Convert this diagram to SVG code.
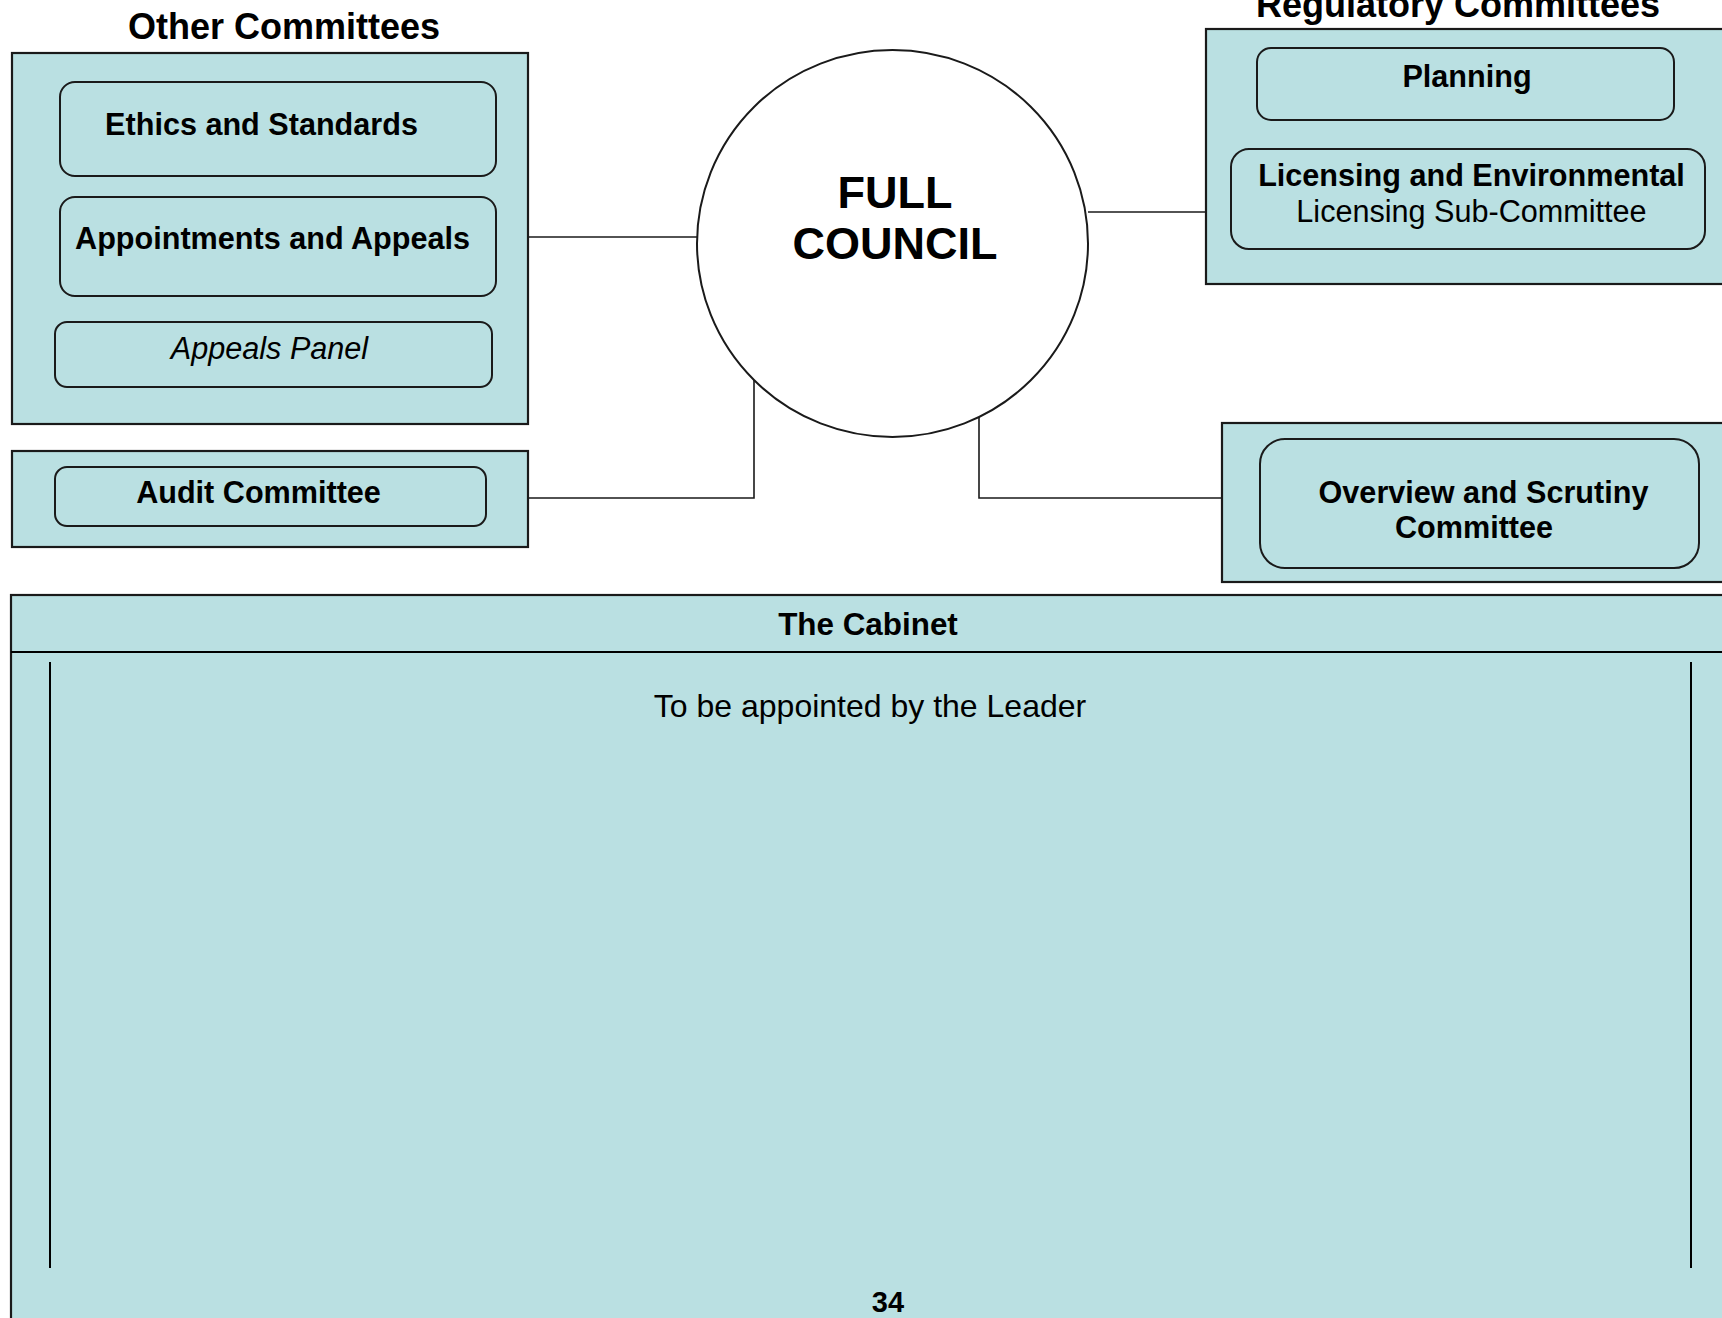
<svg xmlns="http://www.w3.org/2000/svg" width="1722" height="1318" viewBox="0 0 1722 1318">
  <style>
    .panel { fill: #BAE0E2; stroke: #1a1a1a; stroke-width: 2.2; }
    .item { fill: #BAE0E2; stroke: #1a1a1a; stroke-width: 2; }
    .link { fill: none; stroke: #1a1a1a; stroke-width: 1.6; }
    .rule { fill: none; stroke: #000; stroke-width: 2; }
    text { font-family: "Liberation Sans", Arial, sans-serif; fill: #000; text-anchor: middle; }
    .title { font-size: 36px; font-weight: bold; }
    .b { font-size: 30.6px; font-weight: bold; }
    .r { font-size: 30.6px; }
    .i { font-size: 30.6px; font-style: italic; }
    .big { font-size: 45px; font-weight: bold; }
  </style>

  <!-- connectors between the council and its committees -->
  <g id="connectors">
    <path class="link" d="M528 237 H697"/>
    <path class="link" d="M1088 212 H1206"/>
    <path class="link" d="M754 380 V498 H528"/>
    <path class="link" d="M979 417 V498 H1222"/>
  </g>

  <!-- Other Committees -->
  <g id="other-committees">
    <text class="title" x="284" y="39">Other Committees</text>
    <rect class="panel" x="12" y="53" width="516" height="371"/>
    <g id="ethics">
      <rect class="item" x="60" y="82" width="436" height="94" rx="15"/>
      <text class="b" x="261.5" y="135">Ethics and Standards</text>
    </g>
    <g id="appointments">
      <rect class="item" x="60" y="197" width="436" height="99" rx="15"/>
      <text class="b" x="272.5" y="249">Appointments and Appeals</text>
    </g>
    <g id="appeals-panel">
      <rect class="item" x="55" y="322" width="437" height="65" rx="12"/>
      <text class="i" x="269.5" y="359">Appeals Panel</text>
    </g>
  </g>

  <!-- Audit -->
  <g id="audit">
    <rect class="panel" x="12" y="451" width="516" height="96"/>
    <rect class="item" x="55" y="467" width="431" height="59" rx="12"/>
    <text class="b" x="258.5" y="503">Audit Committee</text>
  </g>

  <!-- Full Council -->
  <g id="full-council">
    <ellipse cx="892.5" cy="243.5" rx="195.5" ry="193.5" fill="#fff" stroke="#1a1a1a" stroke-width="2"/>
    <text class="big" x="895" y="208">FULL</text>
    <text class="big" x="895" y="259">COUNCIL</text>
  </g>

  <!-- Regulatory Committees -->
  <g id="regulatory-committees">
    <text class="title" x="1458" y="17">Regulatory Committees</text>
    <rect class="panel" x="1206" y="29" width="530" height="255"/>
    <g id="planning">
      <rect class="item" x="1257" y="48" width="417" height="72" rx="14"/>
      <text class="b" x="1467" y="87">Planning</text>
    </g>
    <g id="licensing">
      <rect class="item" x="1231" y="149" width="474" height="100" rx="18"/>
      <text class="b" x="1471.5" y="186">Licensing and Environmental</text>
      <text class="r" x="1471.5" y="222">Licensing Sub-Committee</text>
    </g>
  </g>

  <!-- Overview and Scrutiny -->
  <g id="overview">
    <rect class="panel" x="1222" y="423" width="514" height="159"/>
    <rect class="item" x="1260" y="439" width="439" height="129" rx="25"/>
    <text class="b" x="1483.5" y="503">Overview and Scrutiny</text>
    <text class="b" x="1474" y="538">Committee</text>
  </g>

  <!-- The Cabinet -->
  <g id="cabinet">
    <rect class="panel" x="11" y="595" width="1725" height="740"/>
    <path class="rule" d="M11 652 H1722" stroke="#1a1a1a" stroke-width="2.2"/>
    <text class="b" x="868" y="635" style="font-size:31.4px">The Cabinet</text>
    <path class="rule" d="M50 662 V1268"/>
    <path class="rule" d="M1691 662 V1268"/>
    <text x="870" y="717" style="font-size:32px">To be appointed by the Leader</text>
    <text class="b" x="888" y="1312" style="font-size:29px">34</text>
  </g>
</svg>
